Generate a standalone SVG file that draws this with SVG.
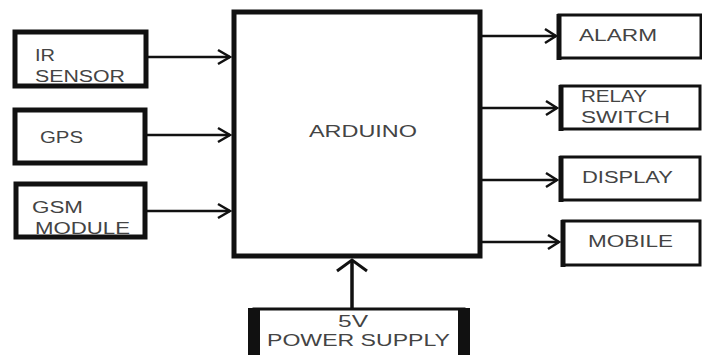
<svg xmlns="http://www.w3.org/2000/svg" width="702" height="355" viewBox="0 0 702 355">
<style>
.box{fill:#fff;stroke:#111;stroke-width:4}
.rbox{fill:#fff;stroke:#111;stroke-width:3}
.t{font-family:"Liberation Sans",Arial,sans-serif;font-size:16px;fill:#444}
.c{fill:none;stroke:#111;stroke-width:2.5}
.h{fill:none;stroke:#111;stroke-width:2.5;stroke-linejoin:miter}
</style>
<rect width="702" height="355" fill="#fff"/>
<g id="connectors">
  <line class="c" x1="148" y1="57" x2="230" y2="57"/>
  <polyline class="h" points="218,50 230,57 218,64"/>
  <line class="c" x1="146" y1="135" x2="230" y2="135"/>
  <polyline class="h" points="218,128 230,135 218,142"/>
  <line class="c" x1="146" y1="211" x2="230" y2="211"/>
  <polyline class="h" points="218,204 230,211 218,218"/>
  <line class="c" x1="482" y1="36" x2="556" y2="36"/>
  <polyline class="h" points="545,29 556,36 545,43"/>
  <line class="c" x1="482" y1="108" x2="557" y2="108"/>
  <polyline class="h" points="546,101 557,108 546,115"/>
  <line class="c" x1="482" y1="180" x2="557" y2="180"/>
  <polyline class="h" points="546,173 557,180 546,187"/>
  <line class="c" x1="482" y1="242" x2="559" y2="242"/>
  <polyline class="h" points="548,235 559,242 548,249"/>
  <line class="c" x1="352" y1="308" x2="352" y2="260" style="stroke-width:3.5"/>
  <polyline class="h" points="337,271 352,260 367,271" style="stroke-width:3"/>
</g>
<g id="ir-sensor">
  <rect class="box" x="15" y="32" width="131" height="54" style="stroke-width:5"/>
  <text class="t" x="35" y="61" textLength="20" lengthAdjust="spacingAndGlyphs">IR</text>
  <text class="t" x="35" y="82" textLength="90" lengthAdjust="spacingAndGlyphs">SENSOR</text>
</g>
<g id="gps">
  <rect class="box" x="15" y="110" width="130" height="53" style="stroke-width:5"/>
  <text class="t" x="40" y="143" textLength="43" lengthAdjust="spacingAndGlyphs">GPS</text>
</g>
<g id="gsm-module">
  <rect class="box" x="16" y="184" width="129" height="53" style="stroke-width:5"/>
  <text class="t" x="32" y="213" textLength="51" lengthAdjust="spacingAndGlyphs">GSM</text>
  <text class="t" x="35" y="234" textLength="95" lengthAdjust="spacingAndGlyphs">MODULE</text>
</g>
<g id="arduino">
  <rect class="box" x="234" y="12" width="246" height="244" style="stroke-width:5"/>
  <text class="t" x="309" y="137" textLength="108" lengthAdjust="spacingAndGlyphs">ARDUINO</text>
</g>
<g id="alarm">
  <rect class="rbox" x="559" y="15" width="142" height="43"/>
  <line x1="559" y1="14" x2="559" y2="60" stroke="#111" stroke-width="5"/>
  <text class="t" x="579" y="41" textLength="78" lengthAdjust="spacingAndGlyphs">ALARM</text>
</g>
<g id="relay-switch">
  <rect class="rbox" x="561" y="86" width="139" height="43"/>
  <line x1="561" y1="85" x2="561" y2="131" stroke="#111" stroke-width="5"/>
  <text class="t" x="581" y="102" textLength="66" lengthAdjust="spacingAndGlyphs">RELAY</text>
  <text class="t" x="581" y="123" textLength="89" lengthAdjust="spacingAndGlyphs">SWITCH</text>
</g>
<g id="display">
  <rect class="rbox" x="561" y="157" width="139" height="43"/>
  <line x1="561" y1="156" x2="561" y2="202" stroke="#111" stroke-width="5"/>
  <text class="t" x="582" y="183" textLength="91" lengthAdjust="spacingAndGlyphs">DISPLAY</text>
</g>
<g id="mobile">
  <rect class="rbox" x="563" y="221" width="137" height="44"/>
  <line x1="563" y1="220" x2="563" y2="267" stroke="#111" stroke-width="5"/>
  <text class="t" x="588" y="247" textLength="85" lengthAdjust="spacingAndGlyphs">MOBILE</text>
</g>
<g id="power-supply">
  <rect class="rbox" x="254" y="309" width="210" height="52"/>
  <rect x="248" y="308" width="12" height="50" fill="#111"/>
  <rect x="458" y="308" width="12" height="50" fill="#111"/>
  <text class="t" x="338" y="327" textLength="30" lengthAdjust="spacingAndGlyphs">5V</text>
  <text class="t" x="267" y="346" textLength="183" lengthAdjust="spacingAndGlyphs">POWER SUPPLY</text>
</g>
</svg>
